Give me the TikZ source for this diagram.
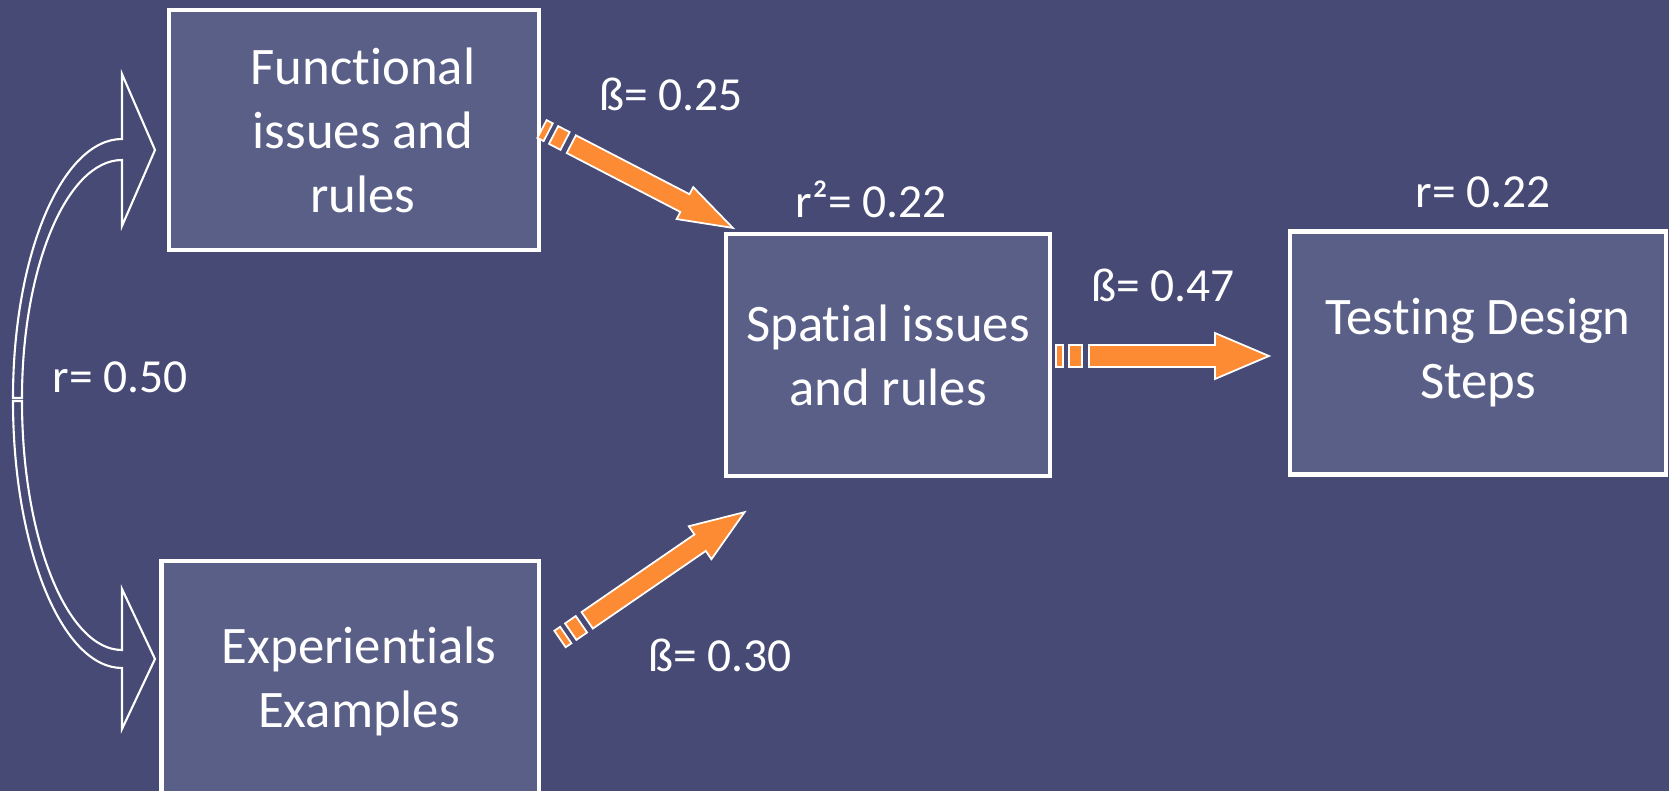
\documentclass[tikz,border=0pt]{standalone}
\usepackage{fontspec}
\setmainfont{Carlito}
\usepackage{tikz}

\definecolor{bgnavy}{RGB}{70,74,116}
\definecolor{boxfill}{RGB}{90,95,136}
\definecolor{arroworange}{RGB}{253,139,52}

\tikzset{
  box/.style={draw=white, line width=1.2pt, fill=boxfill, text=white, align=center, inner sep=0pt},
  lbl/.style={text=white, inner sep=0pt, font=\fontsize{13.5}{16}\selectfont},
  orangearrow/.style={fill=arroworange, draw=white, line width=0.5pt},
  curvearrow/.style={draw=white, line width=0.6pt}
}

% keeps t and i apart (no ligature)
\newcommand{\nolig}{\kern0pt{}}

% striped block arrow: tail, angle, length, half shaft, half head
\newcommand{\stripedarrow}[5]{%
  \begin{scope}[shift={(#1)}, rotate=#2]
    \filldraw[orangearrow] (0,-#4) rectangle (7,#4);
    \filldraw[orangearrow] (13,-#4) rectangle (26,#4);
    \filldraw[orangearrow] (33,-#4) -- ({#3-54},-#4) -- ({#3-54},-#5) -- (#3,0)
      -- ({#3-54},#5) -- ({#3-54},#4) -- (33,#4) -- cycle;
  \end{scope}}

\begin{document}
\begin{tikzpicture}[x=0.01cm, y=-0.01cm, font=\fontsize{15}{18.2}\selectfont]
\useasboundingbox (0,0) rectangle (1669,791);
\fill[bgnavy] (0,0) rectangle (1669,791);

% boxes
\node[box, minimum width=3.70cm, minimum height=2.40cm] (func) at (354,130) {\hspace*{0.18cm}Funct\nolig ional\\\hspace*{0.18cm}issues and\\\hspace*{0.18cm}rules};
\node[box, minimum width=3.77cm, minimum height=2.40cm] (exper) at (350,681) {\hspace*{0.18cm}Experient\nolig ials\\\hspace*{0.18cm}Examples};
\node[box, minimum width=3.24cm, minimum height=2.42cm] (spatial) at (888,355) {Spat\nolig ial issues\\and rules};
\node[box, minimum width=3.76cm, minimum height=2.43cm] (testing) at (1478,353) {Test\nolig ing Design\\Steps};

% coefficients
\node[lbl] (b1) at (671,94) {ß= 0.25};
\node[lbl] (r2) at (871,199) {r²= 0.22};
\node[lbl] (r3) at (1483,192) {r= 0.22};
\node[lbl] (b3) at (1163,285) {ß= 0.47};
\node[lbl] (r1) at (120,377) {r= 0.50};
\node[lbl] (b2) at (720,655) {ß= 0.30};

% orange arrows
\coordinate (t1) at (542,129);
\coordinate (t2) at (560,639);
\coordinate (t3) at (1056,356);
\stripedarrow{t1}{-27.4}{215}{10}{18}
\stripedarrow{t2}{34.5}{224}{10}{20}
\stripedarrow{t3}{0}{213}{11}{23}

% curved double arrow
\draw[curvearrow] (13,398) .. controls (13,255) and (62,139) .. (122,139)
  -- (122,74) -- (155,150) -- (122,226) -- (122,160)
  .. controls (67,160) and (22,267) .. (22,398) -- cycle;
\draw[curvearrow] (13,401) .. controls (13,548) and (62,668) .. (122,668)
  -- (122,729) -- (155,659) -- (122,589) -- (122,650)
  .. controls (67,650) and (22,538) .. (22,401) -- cycle;
\end{tikzpicture}
\end{document}
